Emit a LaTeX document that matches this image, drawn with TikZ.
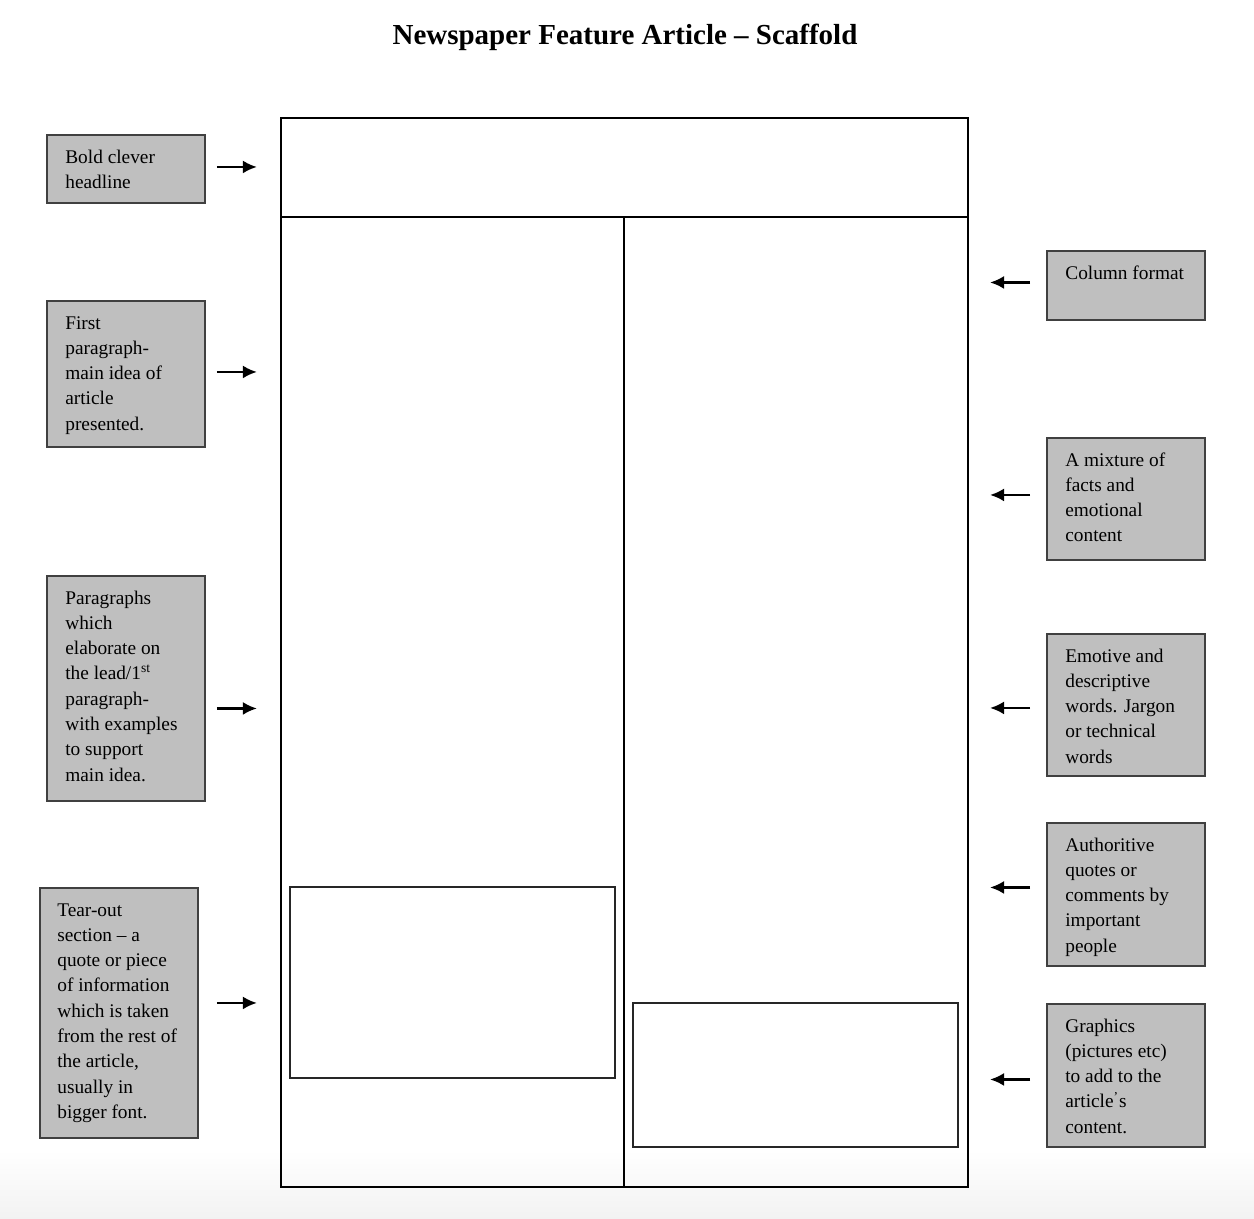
\documentclass[tikz,border=0pt]{standalone}
\usepackage{fontspec}
\setmainfont{Liberation Serif}
\usepackage{tikz}
\usetikzlibrary{arrows.meta, positioning}

\begin{document}
\begin{tikzpicture}[x=0.02cm, y=-0.02cm,
            note/.style={draw=black!75,fill=black!25,line width=1.1pt,anchor=north west,minimum width=3.16cm,inner sep=0pt},
            notetext/.style={anchor=north west,align=left,inner sep=0pt,font=\fontsize{11}{14.4}\selectfont},
            pointer/.style={-{Latex[length=2.8mm,width=2.6mm]},line width=1.4pt},
            page/.style={line width=0.9pt}]

            % Canvas and faint bottom edge
            \useasboundingbox (0,0) rectangle (1254,1218);
            \shade[top color=white,bottom color=black!5] (0,1150) rectangle (1254,1218);

            % Title
            \node[anchor=base,font=\fontsize{16.5}{19}\selectfont\bfseries] (title) at (625,44)
                {Newspaper Feature Article -- Scaffold};

            % Newspaper page frame
            \draw[page] (281,118) rectangle (968,1187);
            \draw[page] (281,217) -- (968,217);
            \draw[page] (624,217) -- (624,1187);
            \draw[line width=0.8pt,black!85] (290,887) rectangle (615,1078);
            \draw[line width=0.8pt,black!85] (633,1003) rectangle (958,1147);

            % Notes on the left
            \node[note,minimum height=1.36cm] (headline) at (46,134) {};
            \node[notetext] (headline-t) at (65,145) {\strut Bold clever\\headline};
            \draw[pointer] ([shift={(11,-2)}]headline.east) -- ([shift={(51,-2)}]headline.east);

            \node[note,minimum height=2.92cm] (firstpara) at (46,300) {};
            \node[notetext] (firstpara-t) at (65,311) {\strut First\\paragraph-\\main idea of\\article\\presented.};
            \draw[pointer] ([shift={(11,-2)}]firstpara.east) -- ([shift={(51,-2)}]firstpara.east);

            \node[note,minimum height=4.5cm] (body) at (46,575) {};
            \node[notetext] (body-t) at (65,586) {\strut Paragraphs\\which\\elaborate on\\the lead/1\textsuperscript{st}\\paragraph-\\with examples\\to support\\main idea.};
            \draw[pointer] ([shift={(11,20)}]body.east) -- ([shift={(51,20)}]body.east);

            \node[note,minimum height=5cm] (tearout) at (39,887) {};
            \node[notetext] (tearout-t) at (57,898) {\strut Tear-out\\section -- a\\quote or piece\\of information\\which is taken\\from the rest of\\the article,\\usually in\\bigger font.};
            \draw[pointer] ([shift={(18,-10)}]tearout.east) -- ([shift={(58,-10)}]tearout.east);

            % Notes on the right
            \node[note,minimum height=1.38cm] (columns) at (1046,250) {};
            \node[notetext] (columns-t) at (1065,261) {\strut Column format};
            \draw[pointer] ([shift={(-16,-3)}]columns.west) -- ([shift={(-56,-3)}]columns.west);

            \node[note,minimum height=2.44cm] (mixture) at (1046,437) {};
            \node[notetext] (mixture-t) at (1065,448) {\strut A mixture of\\facts and\\emotional\\content};
            \draw[pointer] ([shift={(-16,-4)}]mixture.west) -- ([shift={(-56,-4)}]mixture.west);

            \node[note,minimum height=2.84cm] (wording) at (1046,633) {};
            \node[notetext] (wording-t) at (1065,644) {\strut Emotive and\\descriptive\\words. Jargon\\or technical\\words};
            \draw[pointer] ([shift={(-16,3)}]wording.west) -- ([shift={(-56,3)}]wording.west);

            \node[note,minimum height=2.86cm] (quotes) at (1046,822) {};
            \node[notetext] (quotes-t) at (1065,833) {\strut Authoritive\\quotes or\\comments by\\important\\people};
            \draw[pointer] ([shift={(-16,-7)}]quotes.west) -- ([shift={(-56,-7)}]quotes.west);

            \node[note,minimum height=2.86cm] (graphics) at (1046,1003) {};
            \node[notetext] (graphics-t) at (1065,1014) {\strut Graphics\\(pictures etc)\\to add to the\\article\textsuperscript{'}s\\content.};
            \draw[pointer] ([shift={(-16,4)}]graphics.west) -- ([shift={(-56,4)}]graphics.west);
        \end{tikzpicture}
\end{document}
